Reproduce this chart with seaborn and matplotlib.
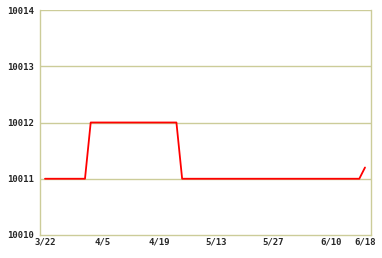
import matplotlib
matplotlib.use("Agg")
import matplotlib.pyplot as plt
import seaborn as sns
import pandas as pd

# values by trading-day index
values = ([10011] * 8) + ([10012] * 16) + ([10011] * 32) + [10011.2]
tick_pos = [0, 10, 20, 30, 40, 50, 56]
tick_labels = ["3/22", "4/5", "4/19", "5/13", "5/27", "6/10", "6/18"]
y_ticks = [10010, 10011, 10012, 10013, 10014]

df = pd.DataFrame({"i": list(range(len(values))), "v": values})

sns.set_style("white")
plt.rcParams['font.family'] = ['DejaVu Sans Mono']

fig = plt.figure(figsize=(3.82, 2.58), dpi=100)
ax = fig.add_axes([39.5 / 382, 23 / 258, 331.5 / 382, 225 / 258])
grid_c = "#cccc99"
for y in y_ticks[1:]:
    ax.axhline(y, color=grid_c, lw=1.0, zorder=0)
sns.lineplot(data=df, x="i", y="v", color="#ff0000", lw=1.3, ax=ax)

ax.set_xlim(-0.96, 57.05)
ax.set_ylim(10010, 10014)
ax.set_xticks(tick_pos)
ax.set_xticklabels(tick_labels)
ax.set_yticks(y_ticks)
ax.set_yticklabels([str(y) for y in y_ticks])
ax.set_xlabel("")
ax.set_ylabel("")
for s in ["left", "right", "bottom"]:
    ax.spines[s].set_color(grid_c)
    ax.spines[s].set_linewidth(1.0)
ax.spines["top"].set_visible(False)
ax.tick_params(axis="x", direction="in", length=4, color=grid_c, width=1, pad=2, labelsize=6.5)
ax.tick_params(axis="y", length=0, pad=4, labelsize=6.5)
for t in ax.get_xticklabels() + ax.get_yticklabels():
    t.set_fontweight("bold")
fig.savefig("out.png", dpi=100, facecolor="white")
